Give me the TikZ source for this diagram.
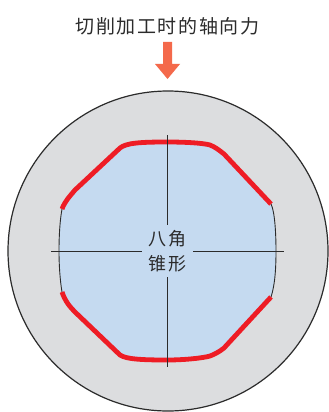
\documentclass[tikz,border=0pt]{standalone}
\usepackage{fontspec}
\newfontfamily\cjk{Noto Sans CJK SC}
\definecolor{discgray}{HTML}{DCDDDF}
\definecolor{coneblue}{HTML}{C5DAF0}
\definecolor{edgered}{HTML}{EE1C25}
\definecolor{forcearrow}{HTML}{F4694B}
\definecolor{inkgray}{HTML}{2B2B2B}
\tikzset{
  axisline/.style={draw=inkgray,line width=0.9pt},
  outlinethin/.style={draw=inkgray,line width=0.9pt},
  rededge/.style={draw=edgered,line width=4.8pt},
  label/.style={font=\cjk\fontsize{18}{22}\selectfont,text=inkgray,inner sep=0pt,align=center}
}
\begin{document}
\begin{tikzpicture}[x=1pt,y=-1pt]
\useasboundingbox (0,0) rectangle (329,412);
\fill[white] (0,0) rectangle (329,412);
\node[circle,draw=inkgray,line width=1.2pt,fill=discgray,minimum size=320pt,inner sep=0pt] (disc) at (168,251) {};
\fill[coneblue] (62,209) .. controls (65,201) and (70,196) .. (75,190) -- (120,148)
  .. controls (126,143) and (140,142) .. (167,142)
  .. controls (185,142) and (203,143) .. (210,145)
  .. controls (215,147) and (219,150) .. (224,154) -- (271,204)
  .. controls (275,212) and (276,235) .. (276,251)
  .. controls (276,268) and (275,285) .. (271,297)
  -- (224,348) .. controls (219,352) and (215,354) .. (210,356)
  .. controls (203,358) and (185,360) .. (167,360)
  .. controls (140,360) and (126,359) .. (120,355)
  -- (75,312) .. controls (70,307) and (65,301) .. (62,292)
  .. controls (60,280) and (59,265) .. (59,251)
  .. controls (59,235) and (60,220) .. (62,209) -- cycle;
\path[outlinethin] (62,209) .. controls (60,220) and (59,235) .. (59,251)
  .. controls (59,265) and (60,280) .. (62,292);
\path[outlinethin] (271,204) .. controls (275,212) and (276,235) .. (276,251)
  .. controls (276,268) and (275,285) .. (271,297);
\path[rededge] (62,209) .. controls (65,201) and (70,196) .. (75,190) -- (120,148)
  .. controls (126,143) and (140,142) .. (167,142)
  .. controls (185,142) and (203,143) .. (210,145)
  .. controls (215,147) and (219,150) .. (224,154) -- (271,204);
\path[rededge] (62,292) .. controls (65,301) and (70,307) .. (75,312) -- (120,355)
  .. controls (126,359) and (140,360) .. (167,360)
  .. controls (185,360) and (203,358) .. (210,356)
  .. controls (215,354) and (219,352) .. (224,348) -- (271,297);
\coordinate (axisT) at (167.5,135);
\coordinate (axisB) at (167.5,367);
\coordinate (axisL) at (51,251);
\coordinate (axisR) at (284,251);
\node[label] (conelabel) at (167.5,251) {八\kern2pt 角\\[2.5pt]锥\kern2pt 形};
\path[axisline] (axisT) -- (167.5,225);
\path[axisline] (167.5,277) -- (axisB);
\path[axisline] (axisL) -- (142,251);
\path[axisline] (193,251) -- (axisR);
\node[label,font=\cjk\fontsize{19}{22}\selectfont] (title) at (167.5,26) {切\kern1.6pt 削\kern1.6pt 加\kern1.6pt 工\kern1.6pt 时\kern1.6pt 的\kern1.6pt 轴\kern1.6pt 向\kern1.6pt 力};
\fill[forcearrow] (163,42) -- (172,42) -- (172,64) -- (180,64) -- (167.5,79) -- (155,64) -- (163,64) -- cycle;
\end{tikzpicture}
\end{document}
